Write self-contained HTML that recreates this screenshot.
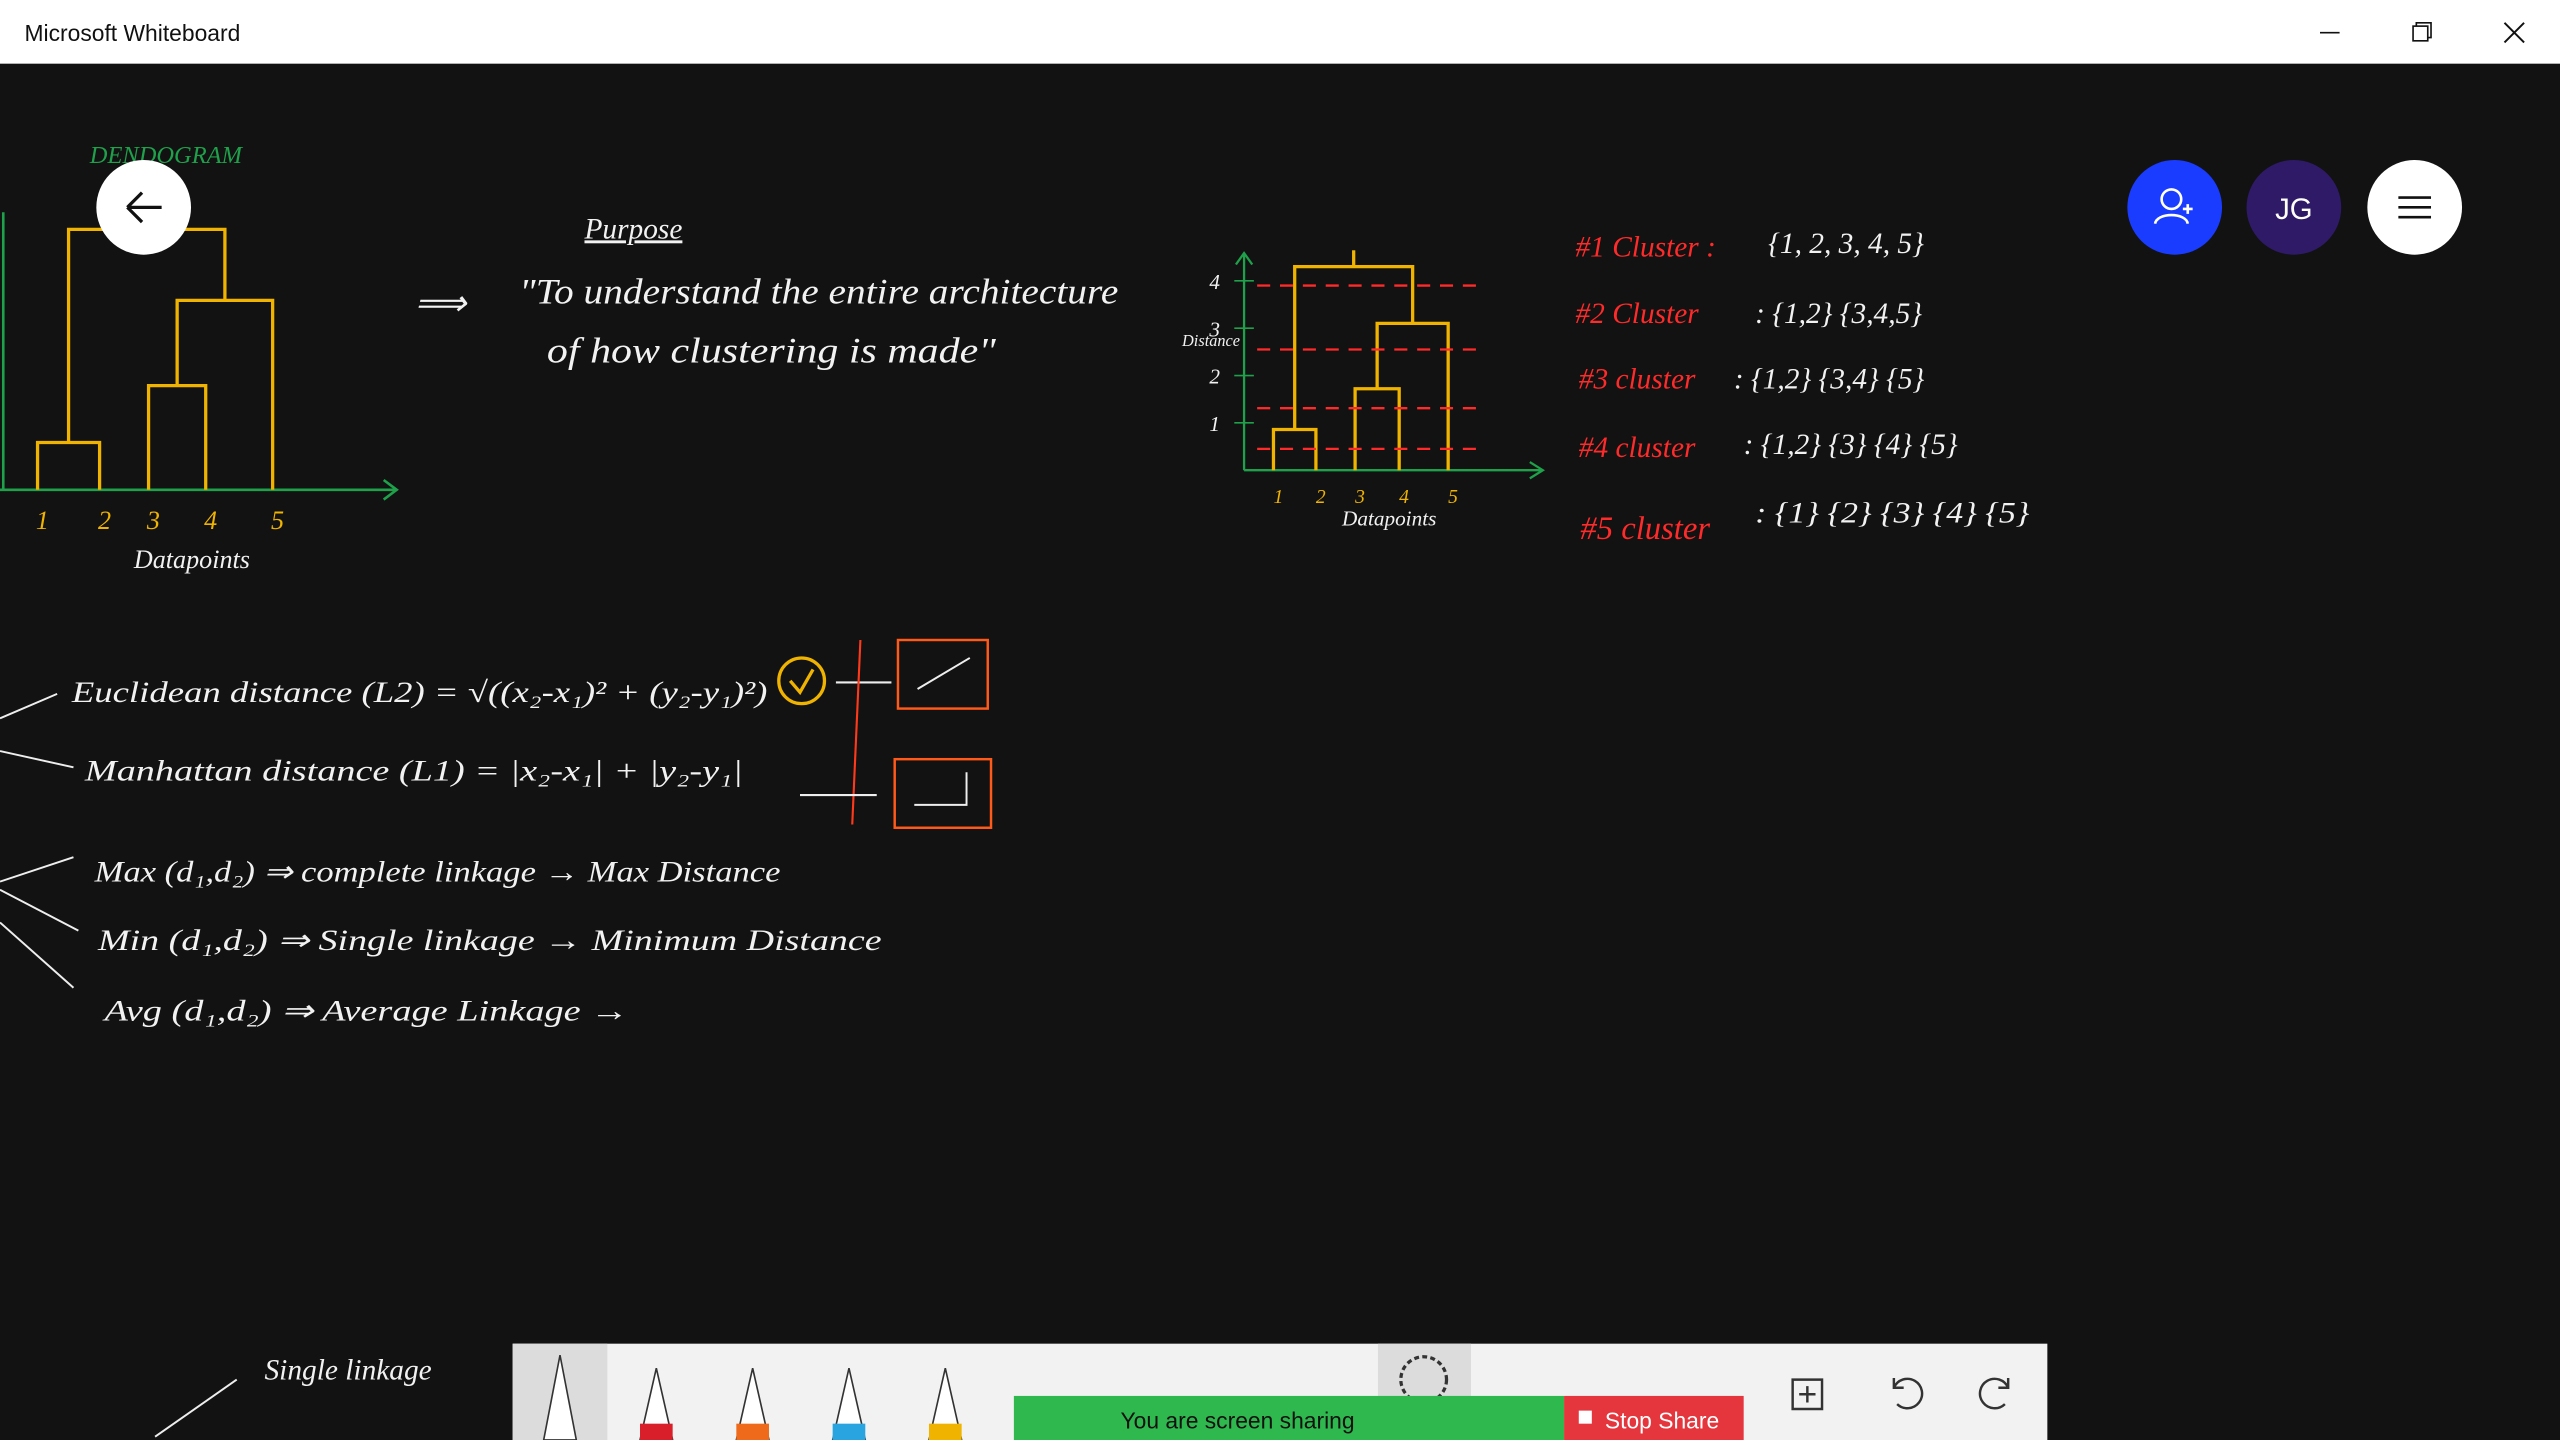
<!DOCTYPE html>
<html><head><meta charset="utf-8">
<style>
html,body{margin:0;padding:0;background:#121212;width:2560px;height:1440px;overflow:hidden}
svg{display:block}
.hw{font-family:"Liberation Serif",serif;font-style:italic;fill:#f2f2f2}
.red{fill:#ff2a2a}
</style></head>
<body>
<svg id="root" width="2560" height="1440" viewBox="0 0 1568 882" xmlns="http://www.w3.org/2000/svg">
<rect x="0" y="0" width="1568" height="882" fill="#121212"/>
<g>
<rect x="0" y="0" width="1568" height="39" fill="#ffffff"/>
<text x="15" y="25" font-family="Liberation Sans,sans-serif" font-size="14" fill="#111">Microsoft Whiteboard</text>
<line x1="1421" y1="20" x2="1433" y2="20" stroke="#111" stroke-width="1"/>
<g><rect x="1478" y="16" width="9" height="9" fill="none" stroke="#111"/><path d="M1480 16V14H1489V23H1487" fill="none" stroke="#111"/></g>
<path d="M1534 14L1546 26M1546 14L1534 26" stroke="#111" stroke-width="1.2"/>
</g>

<g id="dendro1"></g>
<g id="dendro2"></g>

<text x="55" y="100" font-family="Liberation Serif,serif" font-style="italic" font-size="15" fill="#1fa04a">DENDOGRAM</text>
<text x="82" y="348" class="hw" font-size="16">Datapoints</text>
<text x="822" y="322" class="hw" font-size="13">Datapoints</text>
<text x="724" y="212" class="hw" font-size="10">Distance</text>

<g><circle cx="88" cy="127" r="29" fill="#fff"/><path d="M78 127H99M78 127L87 118M78 127L87 136" stroke="#111" stroke-width="2" fill="none"/></g>
<g><circle cx="1332" cy="127" r="29" fill="#1a3cff"/><circle cx="1330" cy="122" r="6" fill="none" stroke="#fff" stroke-width="1.6"/><path d="M1320 137C1321 130 1339 130 1340 137M1337 128H1343M1340 125V131" stroke="#fff" stroke-width="1.6" fill="none"/></g>
<g><circle cx="1405" cy="127" r="29" fill="#2e1a66"/><text x="1405" y="134" text-anchor="middle" font-family="Liberation Sans,sans-serif" font-size="18" fill="#fff">JG</text></g>
<g><circle cx="1479" cy="127" r="29" fill="#fff"/><path d="M1469 121H1489M1469 127H1489M1469 133H1489" stroke="#111" stroke-width="1.6"/></g>

<text x="358" y="146" class="hw" font-size="18" text-decoration="underline">Purpose</text>
<text x="254" y="193" class="hw" font-size="22">⟹</text>
<text x="318" y="186" class="hw" font-size="22" textLength="367" lengthAdjust="spacingAndGlyphs">"To understand the entire architecture</text>
<text x="335" y="222" class="hw" font-size="22" textLength="275" lengthAdjust="spacingAndGlyphs">of how clustering is made"</text>

<g>
<text x="965" y="157" class="hw red" font-size="18">#1 Cluster :</text><text x="1083" y="155" class="hw" font-size="18">{1, 2, 3, 4, 5}</text>
<text x="965" y="198" class="hw red" font-size="18">#2 Cluster</text><text x="1075" y="198" class="hw" font-size="18">:  {1,2} {3,4,5}</text>
<text x="967" y="238" class="hw red" font-size="18">#3 cluster</text><text x="1062" y="238" class="hw" font-size="18">:  {1,2} {3,4} {5}</text>
<text x="967" y="280" class="hw red" font-size="18">#4 cluster</text><text x="1068" y="278" class="hw" font-size="18">:  {1,2} {3} {4} {5}</text>
<text x="968" y="330" class="hw red" font-size="20">#5 cluster</text><text x="1075" y="320" class="hw" font-size="18" textLength="168" lengthAdjust="spacingAndGlyphs">:  {1} {2} {3} {4} {5}</text>
</g>

<g>
<path d="M0 440L35 425M0 460L45 470M0 540L45 525M0 545L48 570M0 565L45 605" stroke="#eee" stroke-width="1.2" fill="none"/>
<text x="44" y="430" class="hw" font-size="18" textLength="426" lengthAdjust="spacingAndGlyphs">Euclidean distance (L2)  = √((x₂-x₁)² + (y₂-y₁)²)</text>
<circle cx="491" cy="417" r="14" fill="none" stroke="#f0b400" stroke-width="2"/>
<path d="M484 417L490 424L498 410" stroke="#f0b400" stroke-width="2" fill="none"/>
<path d="M512 418H546" stroke="#eee" stroke-width="1.3"/>
<line x1="527" y1="392" x2="522" y2="505" stroke="#ff3a1a" stroke-width="1.3"/>
<rect x="550" y="392" width="55" height="42" fill="none" stroke="#ff5a1a" stroke-width="1.5"/>
<path d="M562 422L594 403" stroke="#eee" stroke-width="1.2"/>
<text x="52" y="478" class="hw" font-size="18" textLength="403" lengthAdjust="spacingAndGlyphs">Manhattan distance (L1) = |x₂-x₁| + |y₂-y₁|</text>
<path d="M490 487H537" stroke="#eee" stroke-width="1.3"/>
<rect x="548" y="465" width="59" height="42" fill="none" stroke="#ff5a1a" stroke-width="1.5"/>
<path d="M560 493H592V473" stroke="#eee" stroke-width="1.2" fill="none"/>
<text x="58" y="540" class="hw" font-size="18" textLength="420" lengthAdjust="spacingAndGlyphs">Max (d₁,d₂) ⇒ complete linkage → Max Distance</text>
<text x="60" y="582" class="hw" font-size="18" textLength="480" lengthAdjust="spacingAndGlyphs">Min (d₁,d₂) ⇒ Single linkage → Minimum Distance</text>
<text x="64" y="625" class="hw" font-size="18" textLength="321" lengthAdjust="spacingAndGlyphs">Avg (d₁,d₂) ⇒ Average Linkage →</text>
<text x="162" y="845" class="hw" font-size="18">Single linkage</text>
<path d="M95 880L145 845" stroke="#eee" stroke-width="1.2"/>
</g>

<g>
<rect x="314" y="823" width="940" height="59" fill="#f2f2f2"/>
<rect x="314" y="823" width="58" height="59" fill="#dcdcdc"/>
<path d="M333 882L343 830L353 882Z" fill="#fff" stroke="#333"/>
<g id="pens"></g>
<rect x="844" y="823" width="57" height="59" fill="#dcdcdc"/>
<circle cx="872" cy="845" r="14" fill="none" stroke="#333" stroke-dasharray="3 2" stroke-width="2"/>
<path d="M1098 845h18v18h-18zM1107 849v10M1102 854h10" fill="none" stroke="#333" stroke-width="1.5"/>
<path d="M1160 850a9 9 0 1 1 2 10M1160 844v6h6" fill="none" stroke="#333" stroke-width="1.5"/>
<path d="M1230 850a9 9 0 1 0 -2 10M1230 844v6h-6" fill="none" stroke="#333" stroke-width="1.5"/>
</g>
<g>
<rect x="621" y="855" width="337" height="27" fill="#2eb84e"/>
<text x="758" y="875" text-anchor="middle" font-family="Liberation Sans,sans-serif" font-size="14" fill="#111">You are screen sharing</text>
<rect x="958" y="855" width="110" height="27" fill="#e4363c"/>
<rect x="967" y="864" width="8" height="8" fill="#fff"/>
<text x="983" y="875" font-family="Liberation Sans,sans-serif" font-size="14" fill="#fff">Stop Share</text>
</g>
</svg>
<script>
// Left dendrogram data
const leaves1 = ["1","2","3","4","5"];
const leafX1 = [23, 61, 91, 126, 167];
const merges1 = [[0,1,1.0],[2,3,2.2],[6,4,4.0],[5,7,5.5]]; // [a, b, height]
// Right dendrogram data
const leaves2 = ["1","2","3","4","5"];
const yTicks2 = [1,2,3,4];
const merges2 = [[0,1,0.86],[2,3,1.72],[6,4,3.1],[5,7,4.3]];
const cuts2 = [3.9, 2.55, 1.31, 0.45];

const NS="http://www.w3.org/2000/svg";
function mk(parent,tag,attrs){const e=document.createElementNS(NS,tag);for(const k in attrs)e.setAttribute(k,attrs[k]);parent.appendChild(e);return e;}

function drawDendro(g, leaves, leafPos, merges, yScale, baseY, col, fs){
  const pos=leafPos.slice(), hts=leafPos.map(()=>0);
  leaves.forEach((l,i)=>{
    const t=mk(g,'text',{x:leafPos[i]+3,y:baseY+fs+8,'text-anchor':'middle','font-size':fs,'fill':'#f0b400','font-family':'Liberation Serif,serif','font-style':'italic'});
    t.textContent=l;
    
    
  });
  merges.forEach(m=>{
    const [a,b,h]=m; const y=yScale(h);
    const p=mk(g,'path',{d:`M${pos[a]} ${yScale(hts[a])}V${y}H${pos[b]}V${yScale(hts[b])}`,fill:'none',stroke:col,'stroke-width':2});
    
    
    pos.push((pos[a]+pos[b])/2); hts.push(h);
  });
  const top=mk(g,'path',{d:`M${pos[pos.length-1]} ${yScale(hts[hts.length-1])}v-10`,stroke:col,'stroke-width':2});
  
  
}
// left
const g1=document.getElementById('dendro1');
const ax1=mk(g1,'path',{d:'M0 300H243M235 294L243 300L235 306',fill:'none',stroke:'#1fa04a','stroke-width':1.6});


const ya1=mk(g1,'path',{d:'M2 130V300',stroke:'#1fa04a','stroke-width':1.6});


drawDendro(g1,leaves1,leafX1,merges1,h=>300-h*29,300,'#f0b400',16);
// right
const g2=document.getElementById('dendro2');
const y2=h=>288-h*29;
const ax2=mk(g2,'path',{d:'M762 288H945M937 283L945 288L937 293M762 288V155M757 162L762 155L767 162',fill:'none',stroke:'#1fa04a','stroke-width':1.4});


yTicks2.forEach(t=>{
  const tx=mk(g2,'text',{x:744,y:y2(t)+5,'text-anchor':'middle','font-size':13,fill:'#f2f2f2','font-family':'Liberation Serif,serif','font-style':'italic'});
  tx.textContent=t;
  
  
  const tl=mk(g2,'line',{x1:756,x2:768,y1:y2(t),y2:y2(t),stroke:'#1fa04a'});
  
  
});
const lx2=leaves2.map((_,i)=>[780,806,830,857,887][i]);
drawDendro(g2,leaves2,lx2,merges2,y2,288,'#f0b400',12);
cuts2.forEach(c=>{
  const l=mk(g2,'line',{x1:770,x2:910,y1:y2(c),y2:y2(c),stroke:'#ff2a2a','stroke-width':1.4,'stroke-dasharray':'8 6'});
  
  
});
// pens
const penCols=["#d9202a","#ef6a1a","#2aa4e0","#f0b400"];
const pg=document.getElementById('pens');
penCols.forEach((c,i)=>{
  const x=402+i*59;
  const p=mk(pg,'path',{d:`M${x-10} 882L${x} 838L${x+10} 882Z`,fill:'#fff',stroke:'#333'});
  
  
  const b=mk(pg,'rect',{x:x-10,y:872,width:20,height:10,fill:c});
  
  
});
</script>
</body></html>
